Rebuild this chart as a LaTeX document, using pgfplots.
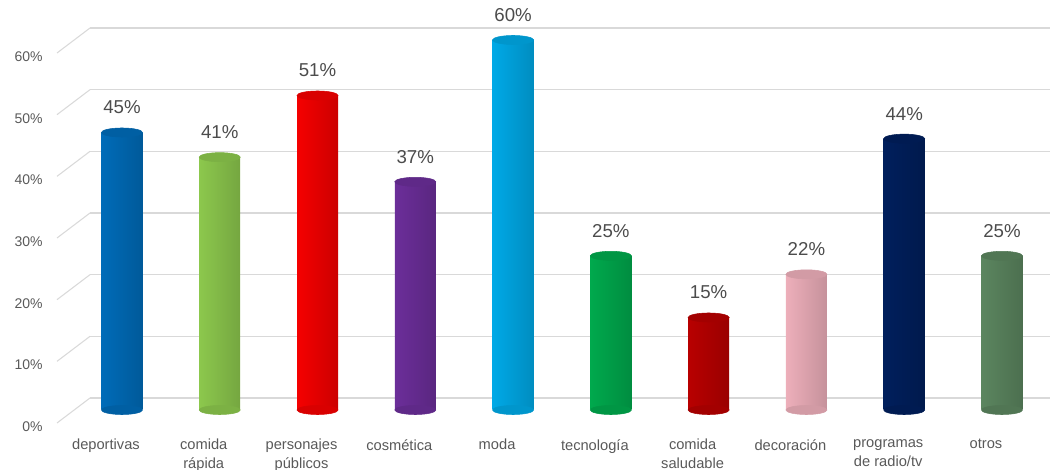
\documentclass[border=0pt]{standalone}
\usepackage{fontspec}
\setmainfont{Liberation Sans}
\usepackage{pgfplots}
\pgfplotsset{compat=1.18}
\definecolor{c1}{HTML}{0070C0}
\definecolor{c2}{HTML}{92D050}
\definecolor{c3}{HTML}{FF0000}
\definecolor{c4}{HTML}{7030A0}
\definecolor{c5}{HTML}{00B0F0}
\definecolor{c6}{HTML}{00B050}
\definecolor{c7}{HTML}{C00000}
\definecolor{c8}{HTML}{F7B6C2}
\definecolor{c9}{HTML}{002060}
\definecolor{c10}{HTML}{5F8B63}
\definecolor{txt}{HTML}{595959}
\definecolor{grd}{HTML}{D9D9D9}
\pgfplotsset{
  base/.style={only marks, color=#1!85!black, mark=*, mark size=15.4pt, mark options={yscale=0.22, draw=#1!85!black, fill=#1!85!black}},
  body/.style={ybar, bar width=30.75pt, bar shift=0pt, draw=none, left color=#1!96!black, middle color=#1!80!white, right color=#1!80!black,
    nodes near coords={\pgfmathprintnumber{\pgfplotspointmeta}\%},
    nodes near coords style={font=\fontsize{14}{16}\selectfont, text=black!70, anchor=center, yshift=18.75pt}},
  topc/.style={only marks, color=#1!85!black, mark=*, mark size=15.4pt, mark options={yscale=0.22, draw=#1!85!black, fill=#1!85!black}},
}
\begin{document}
\begin{tikzpicture}
\useasboundingbox (0,0) rectangle (793.5pt,352.5pt);
% back wall with grid
\begin{axis}[at={(67.5pt,54pt)}, anchor=south west, scale only axis,
  width=720pt, height=277.5pt, xmin=0, xmax=1, ymin=0, ymax=60,
  axis line style={draw=none}, major tick length=0pt, xtick=\empty,
  ytick={0,10,...,60}, ymajorgrids, grid style={grd, line width=0.8pt},
  /pgf/number format/assume math mode=true,
  yticklabel={\pgfmathprintnumber{\tick}\%},
  yticklabel style={font=\fontsize{10.5}{12}\selectfont, text=txt, anchor=east, xshift=-32pt, yshift=-21.5pt},
  clip=false]
\pgfplotsinvokeforeach{0,10,...,60}{\draw[grd, line width=0.8pt] (axis cs:0,#1) -- ++(-24.75pt,-18.75pt);}
\end{axis}
% front bars
\begin{axis}[at={(54.8pt,45pt)}, anchor=south west, scale only axis,
  width=733.35pt, height=277.5pt, xmin=-0.5, xmax=9.5, ymin=0, ymax=60,
  axis line style={draw=none}, major tick length=0pt, ytick=\empty,
  /pgf/number format/assume math mode=true,
  xtick={0,...,9},
  xticklabels={deportivas,{comida\\rápida},{personajes\\públicos},cosmética,moda,tecnología,{comida\\saludable},decoración,{programas\\de radio/tv},otros},
  xticklabel style={font=\fontsize{11}{14.25}\selectfont, text=txt, align=center, anchor=north, xshift=-12pt, yshift=-18.5pt},
  clip=false]
\addplot[base=c1] coordinates {(0,0)};
\addplot[body=c1] coordinates {(0,45)};
\addplot[topc=c1] coordinates {(0,45)};
\addplot[base=c2] coordinates {(1,0)};
\addplot[body=c2] coordinates {(1,41)};
\addplot[topc=c2] coordinates {(1,41)};
\addplot[base=c3] coordinates {(2,0)};
\addplot[body=c3] coordinates {(2,51)};
\addplot[topc=c3] coordinates {(2,51)};
\addplot[base=c4] coordinates {(3,0)};
\addplot[body=c4] coordinates {(3,37)};
\addplot[topc=c4] coordinates {(3,37)};
\addplot[base=c5] coordinates {(4,0)};
\addplot[body=c5] coordinates {(4,60)};
\addplot[topc=c5] coordinates {(4,60)};
\addplot[base=c6] coordinates {(5,0)};
\addplot[body=c6] coordinates {(5,25)};
\addplot[topc=c6] coordinates {(5,25)};
\addplot[base=c7] coordinates {(6,0)};
\addplot[body=c7] coordinates {(6,15)};
\addplot[topc=c7] coordinates {(6,15)};
\addplot[base=c8] coordinates {(7,0)};
\addplot[body=c8] coordinates {(7,22)};
\addplot[topc=c8] coordinates {(7,22)};
\addplot[base=c9] coordinates {(8,0)};
\addplot[body=c9] coordinates {(8,44)};
\addplot[topc=c9] coordinates {(8,44)};
\addplot[base=c10] coordinates {(9,0)};
\addplot[body=c10] coordinates {(9,25)};
\addplot[topc=c10] coordinates {(9,25)};
\end{axis}
\end{tikzpicture}
\end{document}
